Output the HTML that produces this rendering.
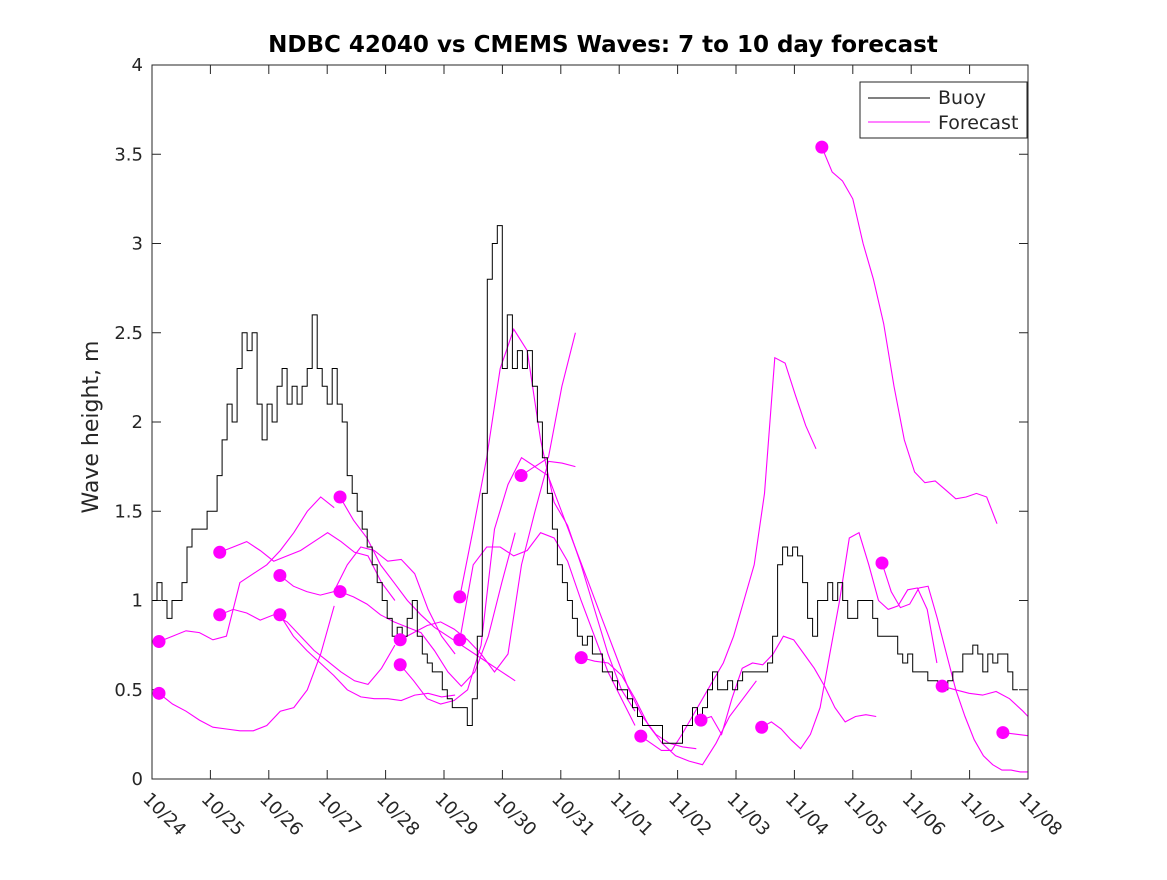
<!DOCTYPE html>
<html><head><meta charset="utf-8"><style>
body{margin:0;background:#fff;}
svg text{font-family:"DejaVu Sans","Liberation Sans",sans-serif;fill:#262626;}
</style></head><body>
<svg id="chart" width="1167" height="875" xmlns="http://www.w3.org/2000/svg">
<rect width="1167" height="875" fill="#fff"/>
<text x="603" y="52" text-anchor="middle" font-size="23" font-weight="bold" style="fill:#000">NDBC 42040 vs CMEMS Waves: 7 to 10 day forecast</text>
<text transform="translate(98,427) rotate(-90)" text-anchor="middle" font-size="22">Wave height, m</text>
<g id="grid"></g><g id="series"></g>
<rect x="152" y="65" width="876" height="714" fill="none" stroke="#262626" stroke-width="1"/>
<g>
<rect x="860" y="82" width="167" height="56" fill="#fff" stroke="#262626"/>
<line x1="868" y1="98" x2="930" y2="98" stroke="#000"/>
<text x="938" y="104" font-size="19">Buoy</text>
<line x1="868" y1="122" x2="930" y2="122" stroke="#f0f"/>
<text x="938" y="129" font-size="19">Forecast</text>
</g>
</svg>
<script>
const xTickLabels=["10/24","10/25","10/26","10/27","10/28","10/29","10/30","10/31","11/01","11/02","11/03","11/04","11/05","11/06","11/07","11/08"];
const yTicks=[0,0.5,1,1.5,2,2.5,3,3.5,4];
const buoyStep=0.0857;
const buoyValues=[1.0,1.1,1.0,0.9,1.0,1.0,1.1,1.3,1.4,1.4,1.4,1.5,1.5,1.7,1.9,2.1,2.0,2.3,2.5,2.4,2.5,2.1,1.9,2.1,2.0,2.2,2.3,2.1,2.2,2.1,2.2,2.3,2.6,2.3,2.2,2.1,2.3,2.1,2.0,1.7,1.6,1.5,1.4,1.3,1.2,1.1,1.0,0.9,0.8,0.85,0.8,0.9,1.0,0.8,0.7,0.65,0.6,0.6,0.5,0.45,0.4,0.4,0.4,0.3,0.45,0.8,1.6,2.8,3.0,3.1,2.3,2.6,2.3,2.4,2.3,2.4,2.2,2.0,1.8,1.6,1.4,1.2,1.1,1.0,0.9,0.8,0.75,0.8,0.7,0.7,0.6,0.6,0.55,0.5,0.5,0.45,0.4,0.35,0.3,0.3,0.3,0.3,0.2,0.2,0.2,0.2,0.3,0.3,0.4,0.35,0.4,0.5,0.6,0.5,0.5,0.55,0.5,0.55,0.6,0.6,0.6,0.6,0.6,0.65,0.8,1.2,1.3,1.25,1.3,1.25,1.1,0.9,0.8,1.0,1.0,1.1,1.0,1.1,1.0,0.9,0.9,1.0,1.0,1.0,0.9,0.8,0.8,0.8,0.8,0.7,0.65,0.7,0.6,0.6,0.6,0.55,0.55,0.5,0.5,0.55,0.6,0.6,0.7,0.7,0.75,0.7,0.6,0.7,0.65,0.7,0.7,0.6,0.5];
const fcSpan=3;
const fcStarts=[0.12,0.12,1.16,1.16,2.19,2.19,3.22,3.22,4.25,4.25,5.27,5.27,6.32,7.35,8.37,9.40,10.44,11.47,12.50,13.53,14.57];
const fcInitial=[0.77,0.48,1.27,0.92,1.14,0.92,1.58,1.05,0.78,0.64,1.02,0.78,1.70,0.68,0.24,0.33,0.29,3.54,1.21,0.52,0.26];
const fc0=[0.77,0.80,0.83,0.82,0.78,0.80,1.10,1.15,1.20,1.28,1.38,1.50,1.58,1.52];
const fc1=[0.48,0.42,0.38,0.33,0.29,0.28,0.27,0.27,0.30,0.38,0.40,0.50,0.70,0.97];
const fc2=[1.27,1.30,1.33,1.28,1.22,1.25,1.28,1.33,1.38,1.33,1.27,1.25,1.10,1.00];
const fc3=[0.92,0.95,0.93,0.89,0.92,0.88,0.80,0.72,0.66,0.60,0.55,0.53,0.62,0.75];
const fc4=[1.14,1.08,1.05,1.03,1.05,1.20,1.30,1.28,1.22,1.23,1.15,0.95,0.80,0.70];
const fc5=[0.92,0.80,0.72,0.65,0.58,0.50,0.46,0.45,0.45,0.44,0.47,0.48,0.46,0.47];
const fc6=[1.58,1.45,1.35,1.20,1.10,1.00,0.92,0.85,0.80,0.75,0.70,0.65,0.60,0.55];
const fc7=[1.05,1.02,0.98,0.92,0.88,0.85,0.82,0.72,0.60,0.52,0.60,0.80,1.10,1.38];
const fc8=[0.78,0.82,0.86,0.88,0.84,0.78,0.70,0.60,0.70,1.20,1.50,1.78,1.77,1.75];
const fc9=[0.64,0.55,0.45,0.42,0.44,0.50,0.75,1.40,1.65,1.80,1.75,1.80,2.20,2.50];
const fc10=[1.02,1.40,1.80,2.30,2.52,2.40,1.90,1.55,1.42,1.20,0.95,0.70,0.50,0.38];
const fc11=[0.78,1.20,1.30,1.30,1.25,1.28,1.38,1.35,1.22,1.00,0.80,0.60,0.45,0.30];
const fc12=[1.70,1.75,1.70,1.50,1.30,1.10,0.90,0.70,0.50,0.35,0.25,0.20,0.18,0.17];
const fc13=[0.68,0.66,0.65,0.58,0.45,0.30,0.20,0.13,0.10,0.08,0.20,0.35,0.45,0.55];
const fc14=[0.24,0.20,0.16,0.16,0.25,0.35,0.45,0.55,0.65,0.80,1.00,1.20,1.60,2.36,2.33,2.15,1.98,1.85];
const fc15=[0.33,0.35,0.25,0.45,0.62,0.65,0.64,0.70,0.80,0.78,0.70,0.62,0.52,0.40,0.32,0.35,0.36,0.35];
const fc16=[0.29,0.32,0.28,0.22,0.17,0.25,0.40,0.70,1.00,1.35,1.38,1.20,1.00,0.95,0.97,1.06,1.07,0.95,0.65];
const fc17=[3.54,3.40,3.35,3.25,3.00,2.80,2.55,2.20,1.90,1.72,1.66,1.67,1.62,1.57,1.58,1.60,1.58,1.43];
const fc18=[1.21,1.05,0.96,0.98,1.07,1.08,0.90,0.70,0.50,0.35,0.22,0.13,0.08,0.05,0.05,0.04,0.04,0.05,0.30,0.55];
const fc19=[0.52,0.50,0.48,0.47,0.49,0.45,0.38,0.30,0.25,0.22,0.20,0.19,0.18,0.18];
const fc20=[0.26,0.24,0.22,0.22,0.26,0.29,0.31];
const forecasts=[fc0,fc1,fc2,fc3,fc4,fc5,fc6,fc7,fc8,fc9,fc10,fc11,fc12,fc13,fc14,fc15,fc16,fc17,fc18,fc19,fc20];

const X0=152,X1=1028,Y0=779,Y1=65,DAYS=15,YMAX=4;
const xs=d=>X0+(X1-X0)*d/DAYS;
const ys=v=>Y0-(Y0-Y1)*v/YMAX;
const NS="http://www.w3.org/2000/svg";
const grid=document.getElementById('grid'),ser=document.getElementById('series');
function mk(tag,attrs,parent){const e=document.createElementNS(NS,tag);for(const k in attrs)e.setAttribute(k,attrs[k]);parent.appendChild(e);return e;}
const clip=mk('clipPath',{id:'plotclip'},document.getElementById('chart'));
mk('rect',{x:X0,y:Y1,width:X1-X0,height:Y0-Y1},clip);
ser.setAttribute('clip-path','url(#plotclip)');
xTickLabels.forEach((lab,i)=>{
  const x=xs(i);
  const t=mk('line',{x1:x,y1:Y0,x2:x,y2:Y0-9,stroke:'#262626'},grid);
  
  
  mk('line',{x1:x,y1:Y1,x2:x,y2:Y1+9,stroke:'#262626'},grid);
  const tx=mk('text',{x:0,y:0,'font-size':18,transform:`translate(${x-10},${Y0+21}) rotate(45)`},grid);
  tx.textContent=lab;
  
  
});
yTicks.forEach(v=>{
  const y=ys(v);
  mk('line',{x1:X0,y1:y,x2:X0+9,y2:y,stroke:'#262626'},grid);
  mk('line',{x1:X1,y1:y,x2:X1-9,y2:y,stroke:'#262626'},grid);
  const tx=mk('text',{x:X0-9,y:y+6,'font-size':18,'text-anchor':'end'},grid);
  tx.textContent=String(v);
  
  
});
forecasts.forEach((arr,i)=>{
  const step=fcSpan/(arr.length-1);
  const pts=arr.map((v,j)=>xs(fcStarts[i]+j*step).toFixed(1)+','+ys(v).toFixed(1)).join(' ');
  const p=mk('polyline',{points:pts,fill:'none',stroke:'#ff00ff','stroke-width':1.1},ser);
  
  
});
let bp=[];
buoyValues.forEach((v,i)=>{const x0=xs(i*buoyStep),x1=xs((i+1)*buoyStep);bp.push(x0.toFixed(1)+','+ys(v).toFixed(1),x1.toFixed(1)+','+ys(v).toFixed(1));});
const bl=mk('polyline',{points:bp.join(' '),fill:'none',stroke:'#000','stroke-width':1},ser);


fcStarts.forEach((d,i)=>{
  const c=mk('circle',{cx:xs(d),cy:ys(fcInitial[i]),r:6.5,fill:'#ff00ff'},ser);
  
  
});
</script>
</body></html>
